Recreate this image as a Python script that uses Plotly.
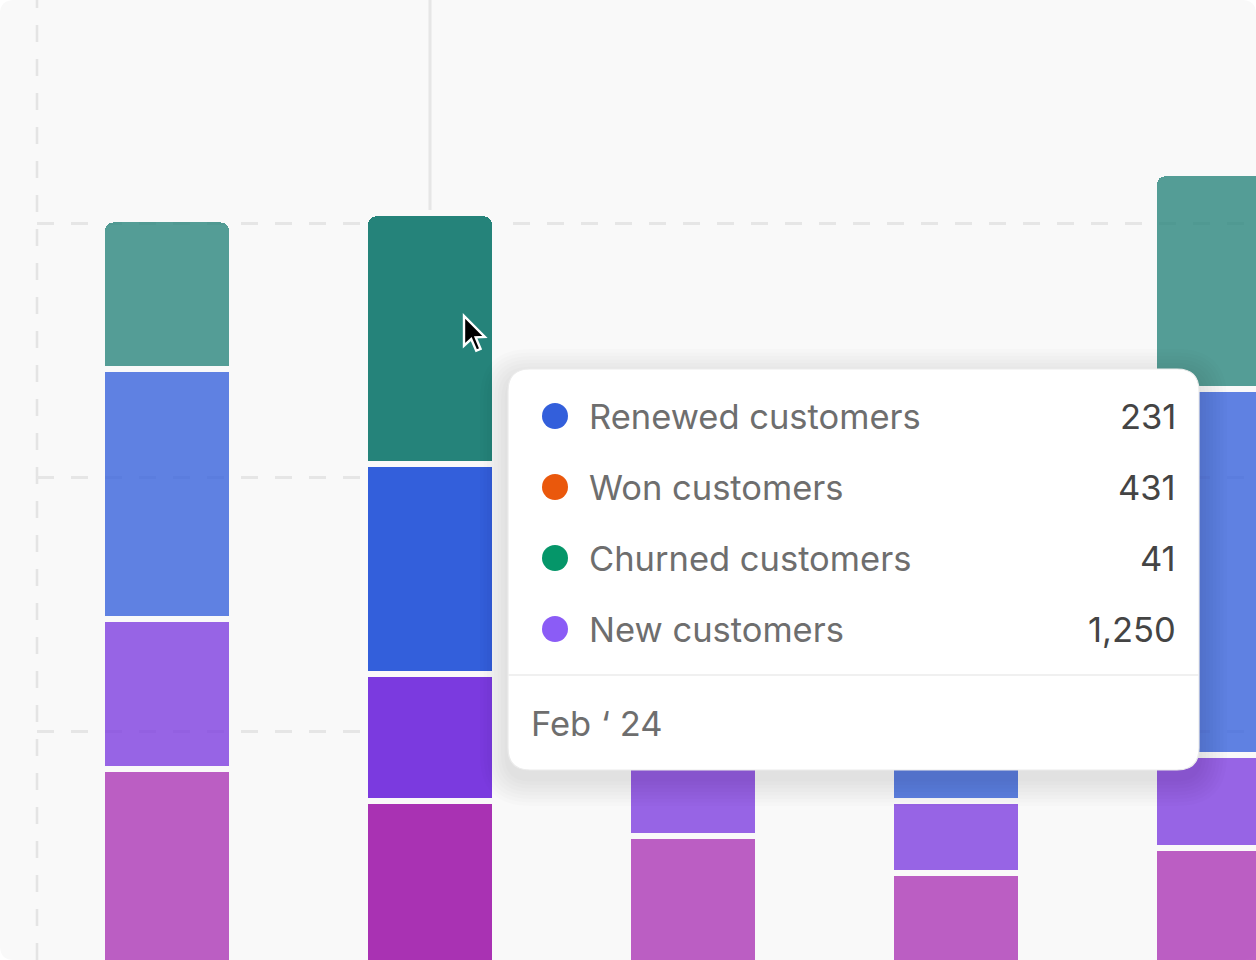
import plotly.graph_objects as go

# ---------------- data ----------------
months = ["Jan ‘24", "Feb ‘24", "Mar ‘24", "Apr ‘24", "May ‘24"]
won_customers = [425, 362, 293, 220, 270]        # bottom segment (magenta)
new_customers = [295, 250, 228, 142, 183]        # purple
renewed_customers = [492, 413, 315, 278, 720]    # blue
churned_customers = [295, 494, 276, 354, 425]    # teal (top)
highlight_index = 1
grid_values = [500, 1000, 1500]

tooltip_labels = ["Renewed customers", "Won customers", "Churned customers", "New customers"]
tooltip_values = ["231", "431", "41", "1,250"]
tooltip_dot_colors = ["#335FDB", "#EA580C", "#059669", "#8B5CF6"]
tooltip_title = "Feb ‘ 24"

# ---------------- styling ----------------
W, H = 1256, 960
ML = 37
BG = "#F9F9F9"
FONT = "Inter"


def px(x):
    return (x - ML) / (W - ML)


def py(y):
    return (H - y) / H


def rrect(x0, y0, x1, y1, r):
    """rounded rect path in paper coords from pixel coords"""
    X0, X1 = px(x0), px(x1)
    Y0, Y1 = py(y0), py(y1)  # Y0 top (higher), Y1 bottom
    rx = r / (W - ML)
    ry = r / H
    return (f"M {X0+rx},{Y0} L {X1-rx},{Y0} Q {X1},{Y0} {X1},{Y0-ry} "
            f"L {X1},{Y1+ry} Q {X1},{Y1} {X1-rx},{Y1} "
            f"L {X0+rx},{Y1} Q {X0},{Y1} {X0},{Y1+ry} "
            f"L {X0},{Y0-ry} Q {X0},{Y0} {X0+rx},{Y0} Z")


def colors(full, alpha=0.78):
    h = full.lstrip("#")
    r, g, b = int(h[0:2], 16), int(h[2:4], 16), int(h[4:6], 16)
    out = []
    for i in range(len(months)):
        a = 1 if i == highlight_index else alpha
        out.append(f"rgba({r},{g},{b},{a})")
    return out


series = [
    ("Won customers", won_customers, "#A932B3"),
    ("New customers", new_customers, "#7B3ADF"),
    ("Renewed customers", renewed_customers, "#335FDB"),
    ("Churned customers", churned_customers, "#25837A"),
]

fig = go.Figure()
for name, vals, col in series:
    fig.add_trace(go.Bar(
        x=months, y=vals, name=name,
        marker=dict(color=colors(col), line=dict(color=BG, width=6)),
        hoverinfo="skip",
    ))

shapes = []
# card background with rounded corners
shapes.append(dict(type="path", xref="paper", yref="paper", path=rrect(0, 0, W, H, 14),
                   fillcolor=BG, line=dict(width=0), layer="below"))
# left dashed axis
shapes.append(dict(type="line", xref="paper", yref="paper", x0=0, x1=0, y0=0, y1=1,
                   line=dict(color="#E4E4E4", width=2.5, dash="17px,17px"), layer="below"))
# hover spike line
shapes.append(dict(type="line", xref="x", yref="paper", x0=months[highlight_index], x1=months[highlight_index],
                   y0=0, y1=1, line=dict(color="#E6E6E6", width=3), layer="below"))

# tooltip shadow
tx0, ty0, tx1, ty1 = 508, 369, 1199, 770
for i in range(1, 9):
    e = i * 3.5
    shapes.append(dict(type="path", xref="paper", yref="paper",
                       path=rrect(tx0 - e, ty0 - e + 8, tx1 + e, ty1 + e + 8, 22 + e),
                       fillcolor="rgba(0,0,0,0.011)", line=dict(width=0), layer="above"))
# tooltip card
shapes.append(dict(type="path", xref="paper", yref="paper", path=rrect(tx0, ty0, tx1, ty1, 22),
                   fillcolor="#FFFFFF", line=dict(color="#EBEBEB", width=1.2), layer="above"))
shapes.append(dict(type="line", xref="paper", yref="paper", x0=px(tx0), x1=px(tx1), y0=py(675), y1=py(675),
                   line=dict(color="#F0F0F0", width=2), layer="above"))
# dots
row_y = [416, 487, 558, 629]
for yy, c in zip(row_y, tooltip_dot_colors):
    shapes.append(dict(type="circle", xref="paper", yref="paper",
                       x0=px(555 - 13), x1=px(555 + 13), y0=py(yy + 13), y1=py(yy - 13),
                       fillcolor=c, line=dict(width=0), layer="above"))

# cursor arrow
cur = [(0, 0), (0, 16.5), (4, 12.8), (6.8, 19.3), (9.2, 18.3), (6.5, 11.9), (11.6, 11.6)]
s = 1.8
tipx, tipy = 464, 316
pts = [(px(tipx + a * s), py(tipy + b * s)) for a, b in cur]
cpath = "M " + " L ".join(f"{a},{b}" for a, b in pts) + " Z"
shapes.append(dict(type="path", xref="paper", yref="paper", path=cpath,
                   fillcolor="#000000", line=dict(color="#FFFFFF", width=2.4), layer="above"))

annotations = []
FS = 34.5
for yy, lab, val in zip(row_y, tooltip_labels, tooltip_values):
    annotations.append(dict(xref="paper", yref="paper", x=px(587), y=py(yy), text=lab,
                            xanchor="left", yanchor="middle", showarrow=False,
                            font=dict(family=FONT, size=FS, color="#6E6E6E")))
    annotations.append(dict(xref="paper", yref="paper", x=px(1178), y=py(yy), text=val,
                            xanchor="right", yanchor="middle", showarrow=False,
                            font=dict(family=FONT, size=FS, color="#444444")))
annotations.append(dict(xref="paper", yref="paper", x=px(529), y=py(723), text=tooltip_title,
                        xanchor="left", yanchor="middle", showarrow=False,
                        font=dict(family=FONT, size=FS, color="#6E6E6E")))

fig.update_layout(
    width=W, height=H,
    margin=dict(l=ML, r=0, t=0, b=0),
    barmode="stack", bargap=0.506, barcornerradius=11,
    paper_bgcolor="#FFFFFF", plot_bgcolor="rgba(0,0,0,0)",
    showlegend=False, hovermode=False,
    shapes=shapes, annotations=annotations,
    font=dict(family=FONT),
    xaxis=dict(type="category", range=[-0.4943, 4.1407], showgrid=False, zeroline=False,
               showticklabels=False, showline=False, fixedrange=True),
    yaxis=dict(range=[49.2, 1939], tickvals=grid_values, showgrid=True, gridcolor="#E6E6E6",
               gridwidth=2.5, griddash="17px,17px", zeroline=False, showticklabels=False,
               showline=False, fixedrange=True),
)

fig.write_html("out.html", config={"displayModeBar": False},
               post_script="document.body.style.margin='0';document.body.style.overflow='hidden';")
